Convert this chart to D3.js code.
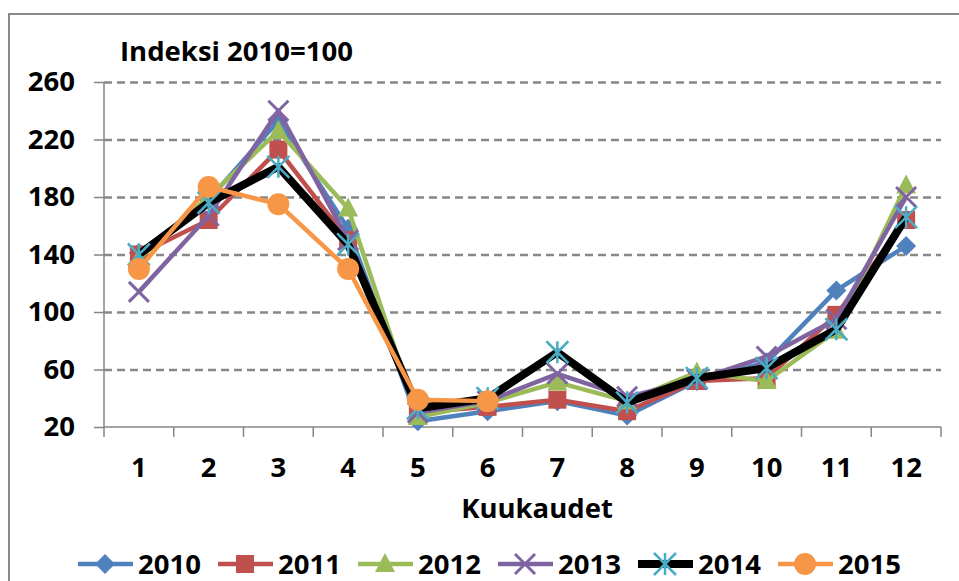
<!DOCTYPE html>
<html><head><meta charset="utf-8">
<script src="https://cdn.jsdelivr.net/npm/d3@7"></script>
<style>
html,body{margin:0;padding:0;background:#fff;}
svg text{font-family:"Open Sans",sans-serif;font-weight:bold;fill:#000;}
</style></head>
<body><svg id="c" width="959" height="581"></svg>
<script>
const months = [1,2,3,4,5,6,7,8,9,10,11,12];
const yTicks = [20,60,100,140,180,220,260];
const s2010 = [141,178,233,158,24,31,38,28,52,65,115,146];
const s2011 = [140,164,213,150,30,34,39,31,52,54,98,164];
const s2012 = [137,180,226,172,27,37,51,38,58,52,87,188];
const s2013 = [114,167,240,150,30,38,57,41,53,69,95,180];
const s2014 = [140,176,201,147,33,40,72,37,54,61,88,166];
const s2015 = [130,187,175,130,39,38];
const seriesNames = ["2010","2011","2012","2013","2014","2015"];
const titleText = "Indeksi 2010=100";
const xTitle = "Kuukaudet";

const series = [
  {name:"2010", values:s2010, line:"#4F81BD", mk:"diamond", mc:"#4F81BD", lw:4.5},
  {name:"2011", values:s2011, line:"#C0504D", mk:"square", mc:"#C0504D", lw:4.5},
  {name:"2012", values:s2012, line:"#9BBB59", mk:"triangle", mc:"#9BBB59", lw:4.5},
  {name:"2013", values:s2013, line:"#8064A2", mk:"x", mc:"#8064A2", lw:4.5},
  {name:"2014", values:s2014, line:"#000000", mk:"star", mc:"#4BACC6", lw:8},
  {name:"2015", values:s2015, line:"#F79646", mk:"circle", mc:"#F79646", lw:4.5}
];

const svg = d3.select("#c");
const L = 104, R = 941, T = 82, B = 427;
const FS = "27.5px";
const x = d3.scaleBand().domain(months).range([L,R]);
const xc = m => x(m) + x.bandwidth()/2;
const y = d3.scaleLinear().domain([20,260]).range([B,T]);

// frame
svg.append("path").attr("d","M9,581 L9,14 L959,14").attr("fill","none").attr("stroke","#8a8a8a").attr("stroke-width",2);

// gridlines
const grid = svg.append("g").attr("transform",`translate(${L},0)`)
  .call(d3.axisLeft(y).tickValues(yTicks).tickSize(-(R-L)).tickFormat(""));
grid.select(".domain").remove();
grid.selectAll("line").attr("stroke","#888888").attr("stroke-width",2.5).attr("stroke-dasharray","8,5");
grid.selectAll(".tick").filter(d=>d===20).remove();

// y axis
const ya = svg.append("g").attr("transform",`translate(${L},0)`)
  .call(d3.axisLeft(y).tickValues(yTicks).tickSize(10).tickPadding(19));
ya.select(".domain").attr("stroke","#868686").attr("stroke-width",1.5).attr("d",`M0,${T}V${B}`);
ya.selectAll("line").attr("stroke","#868686").attr("stroke-width",1.5);
ya.selectAll("text").style("font-size",FS).attr("fill","#000");

// x axis
const xa = svg.append("g").attr("transform",`translate(0,${B})`)
  .call(d3.axisBottom(x).tickSize(0).tickPadding(30));
xa.select(".domain").attr("stroke","#868686").attr("stroke-width",1.5).attr("d",`M${L},0H${R}`);
xa.selectAll("text").style("font-size",FS).attr("fill","#000");
const bounds = months.map(m=>x(m)).concat([R]);
xa.selectAll("line.bt").data(bounds).enter().append("line").attr("class","bt")
  .attr("x1",d=>d).attr("x2",d=>d).attr("y1",0).attr("y2",10)
  .attr("stroke","#868686").attr("stroke-width",1.5);

// titles
svg.append("text").attr("x",120).attr("y",61).style("font-size",FS).text(titleText);
svg.append("text").attr("x",537).attr("y",518).attr("text-anchor","middle").style("font-size",FS).text(xTitle);

function marker(g, type, color, cx, cy){
  if(type==="diamond"){
    g.append("path").attr("d",`M${cx},${cy-10}L${cx+10},${cy}L${cx},${cy+10}L${cx-10},${cy}Z`).attr("fill",color);
  } else if(type==="square"){
    g.append("rect").attr("x",cx-9).attr("y",cy-9).attr("width",18).attr("height",18).attr("fill",color);
  } else if(type==="triangle"){
    g.append("path").attr("d",`M${cx},${cy-11}L${cx+10},${cy+8}L${cx-10},${cy+8}Z`).attr("fill",color);
  } else if(type==="x"){
    const r=10;
    g.append("path").attr("d",`M${cx-r},${cy-r}L${cx+r},${cy+r}M${cx-r},${cy+r}L${cx+r},${cy-r}`).attr("stroke",color).attr("stroke-width",3).attr("fill","none");
  } else if(type==="star"){
    const r=11;
    g.append("path").attr("d",`M${cx-r},${cy-r}L${cx+r},${cy+r}M${cx-r},${cy+r}L${cx+r},${cy-r}M${cx},${cy-r}L${cx},${cy+r}`).attr("stroke",color).attr("stroke-width",2.5).attr("fill","none");
  } else if(type==="circle"){
    g.append("circle").attr("cx",cx).attr("cy",cy).attr("r",11).attr("fill",color);
  }
}

const line = d3.line().x((d,i)=>xc(months[i])).y(d=>y(d));
series.forEach(s=>{
  const g = svg.append("g");
  g.append("path").attr("d",line(s.values)).attr("fill","none").attr("stroke",s.line)
    .attr("stroke-width",s.lw).attr("stroke-linejoin","round");
  s.values.forEach((v,i)=>marker(g,s.mk,s.mc,xc(months[i]),y(v)));
});

// legend
const lg = svg.append("g");
series.forEach((s,i)=>{
  const cx = 105 + i*140, cy = 564;
  lg.append("line").attr("x1",cx-27).attr("x2",cx+28).attr("y1",cy).attr("y2",cy)
    .attr("stroke",s.line).attr("stroke-width",s.lw);
  marker(lg,s.mk,s.mc,cx,cy);
  lg.append("text").attr("x",cx+33).attr("y",cy+10).style("font-size",FS).text(seriesNames[i]);
});
</script></body></html>
